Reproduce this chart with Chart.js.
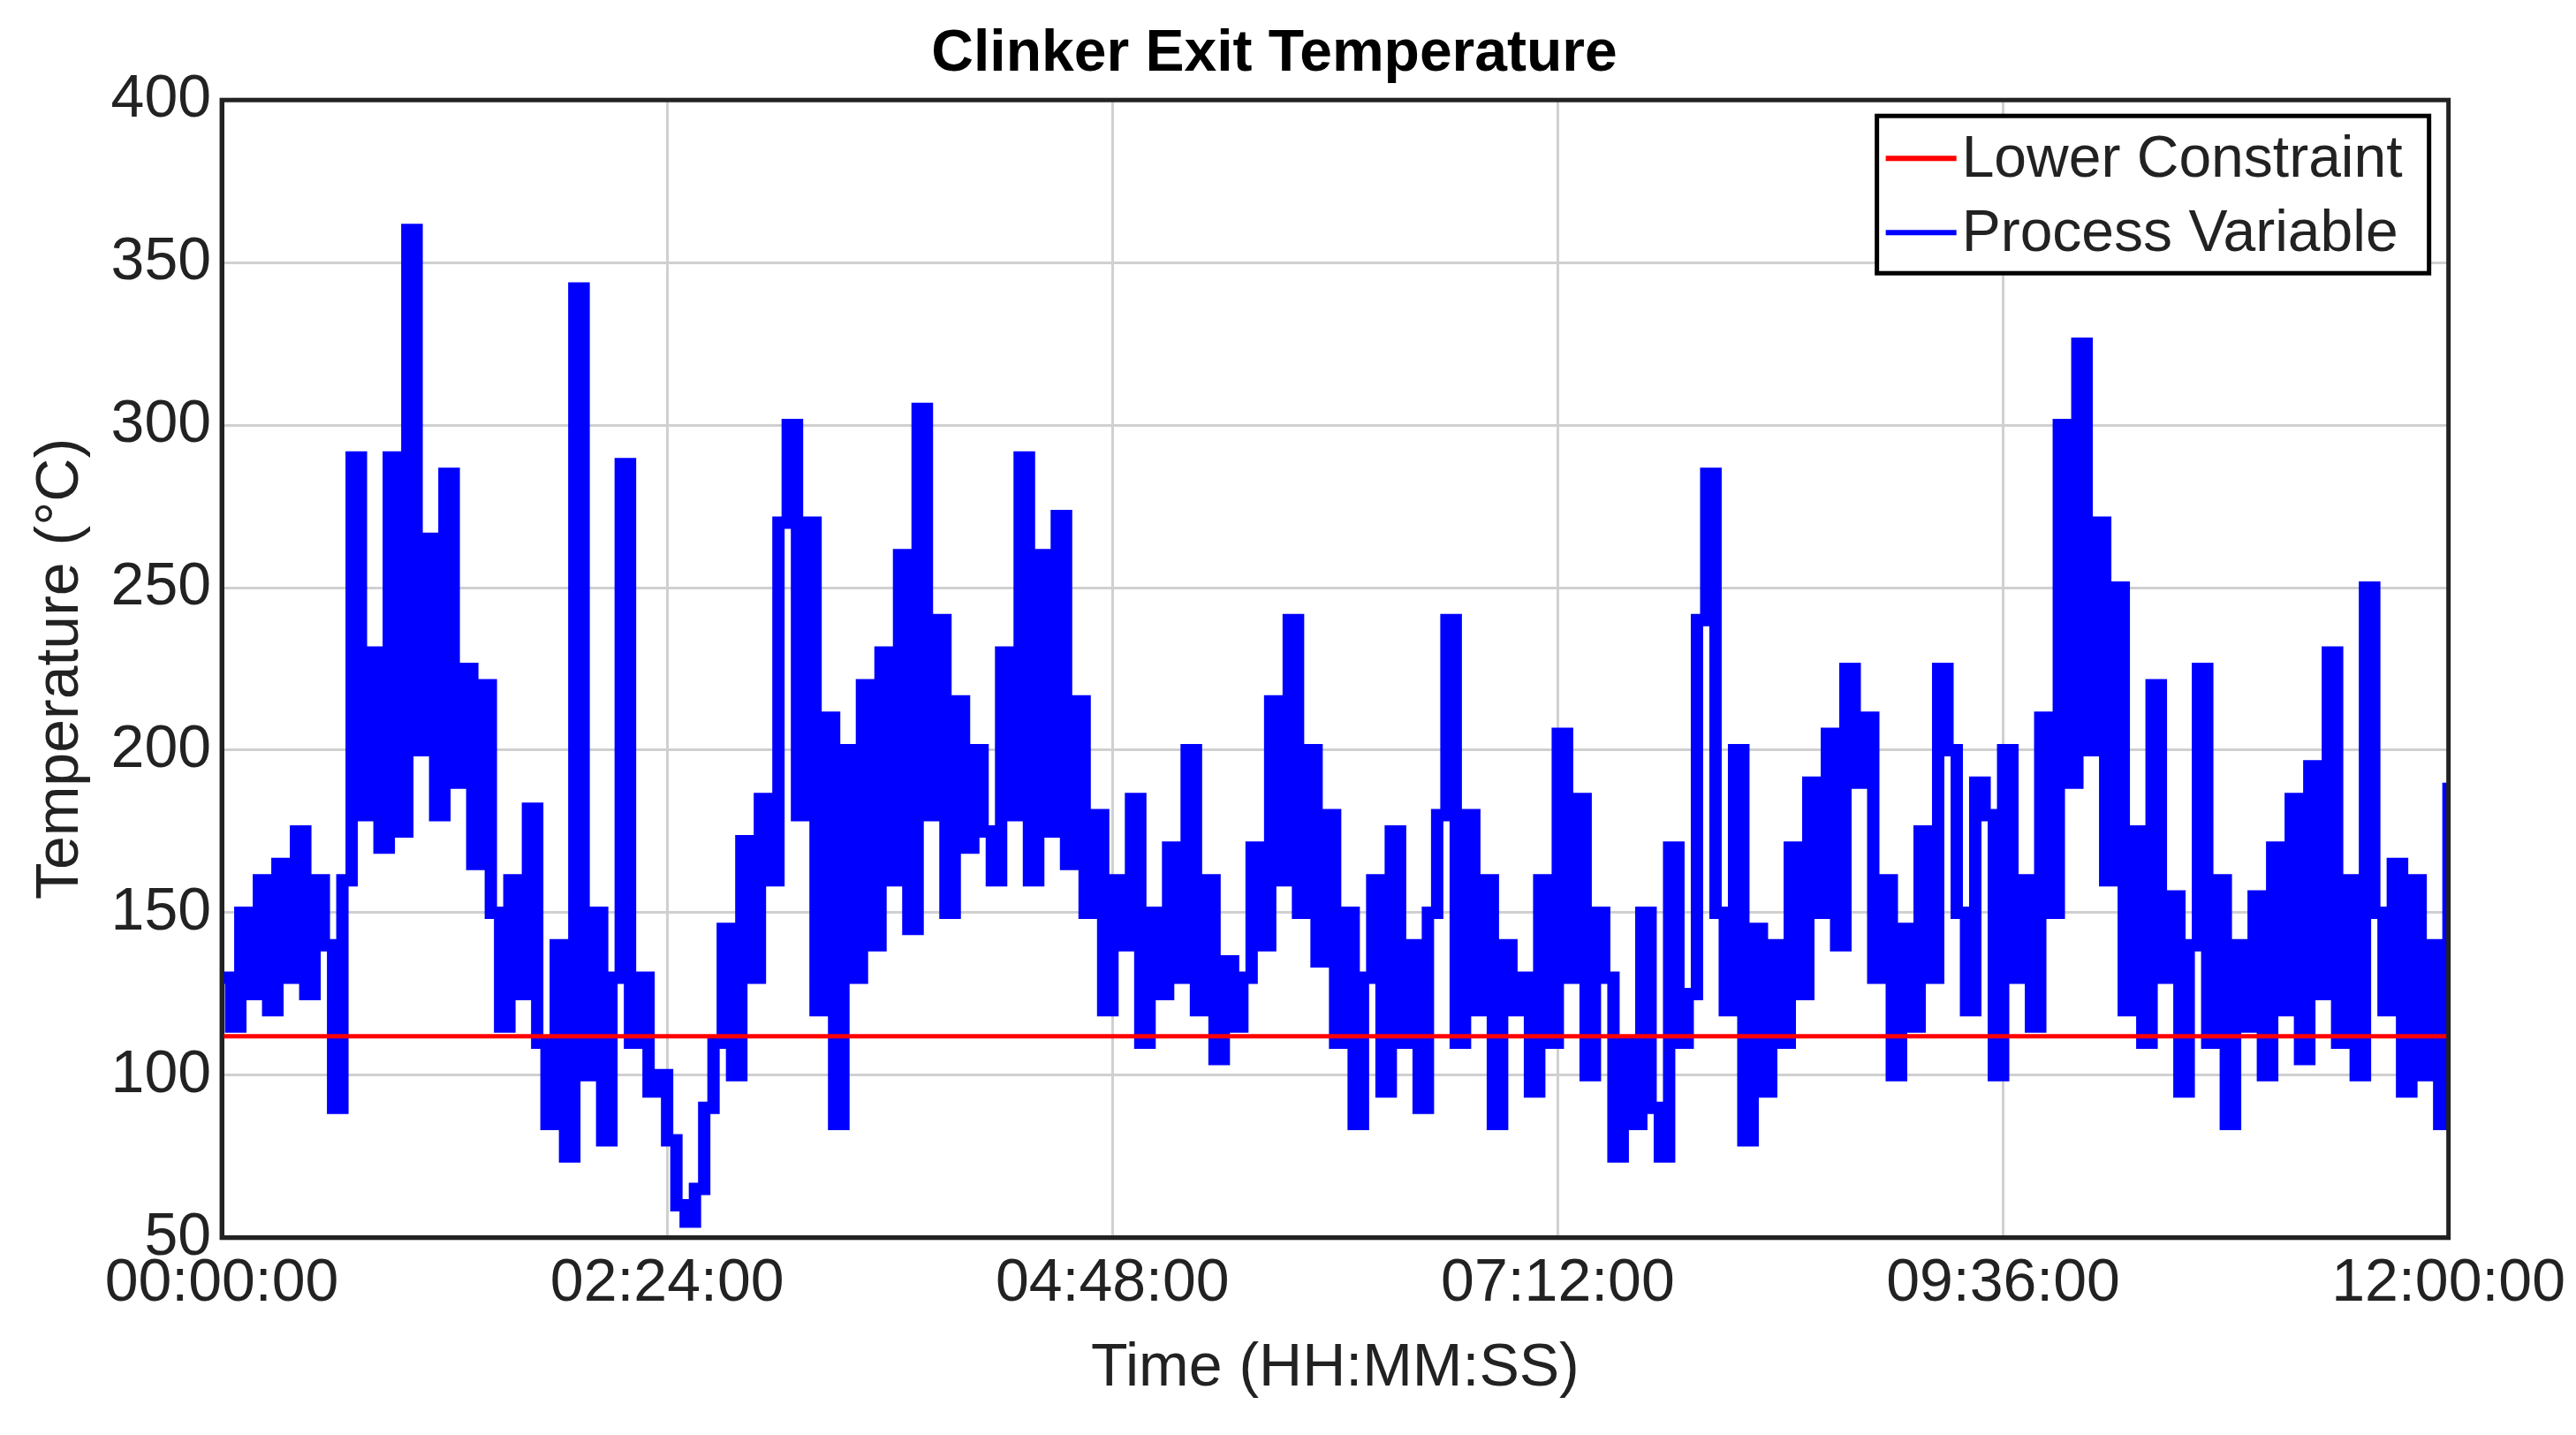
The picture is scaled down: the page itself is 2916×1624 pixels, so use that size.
<!DOCTYPE html>
<html><head><meta charset="utf-8">
<script src="https://cdn.jsdelivr.net/npm/chart.js@4"></script>
<style>html,body{margin:0;background:#fff}#w{width:2916px;height:1624px}</style>
</head><body><div id="w"><canvas id="c"></canvas></div>
<script>
const title = 'Clinker Exit Temperature';
const xTicks = ['00:00:00','02:24:00','04:48:00','07:12:00','09:36:00','12:00:00'];
const lowerConstraint = 112;
const processVariable = [
130,115,150,125,160,120,165,130,175,125,160,140,90,
160,290,180,230,170,290,175,360,200,265,180,285,190,225,165,220,
150,115,160,125,182,110,
85,140,75,342,100,150,80,130,288,110,
130,95,100,80,60,55,65,90,
110,145,100,172,130,185,160,270,300,180,
270,120,210,85,200,130,
220,140,230,160,260,145,305,180,
240,150,215,170,200,175,160,230,180,290,
160,260,175,272,165,215,
150,180,120,160,140,185,110,150,125,170,130,200,120,160,105,135,115,130,
170,140,215,160,240,150,200,135,
180,110,150,85,130,160,95,175,110,140,90,150,180,240,
110,180,120,160,85,140,120,130,95,160,110,205,130,185,100,150,
130,75,110,85,150,90,75,170,110,125,240,285,
150,120,200,80,145,95,140,110,170,125,190,150,205,140,225,190,
210,130,160,100,145,115,175,130,225,200,150,120,190,180,
100,200,130,160,115,210,150,300,190,325,200,270,160,250,
120,175,110,220,130,155,95,140,225,110,160,85,140,115,
155,100,170,120,185,105,195,125,230,110,160,100,250,150,
120,165,95,160,100,140,85,190
];
const totalMin = 720;
const step = totalMin/(processVariable.length-1);
const pvData = processVariable.map((v,i)=>({x:i*step,y:v}));
const lcData = [{x:0,y:lowerConstraint},{x:totalMin,y:lowerConstraint}];
function fmt(m){return xTicks[Math.round(m/144)] ?? '';}
const F='"Liberation Sans", Arial, sans-serif';
const boxPlugin={id:'box',afterDraw(ch){
 const a=ch.chartArea,c=ch.ctx;c.save();c.strokeStyle='#222';c.lineWidth=5;
 c.strokeRect(a.left,a.top,a.right-a.left,a.bottom-a.top);
 const w=625,h=178,x=a.right-w-22,y=a.top+18;
 c.fillStyle='#fff';c.fillRect(x,y,w,h);c.lineWidth=5;c.strokeStyle='#000';c.strokeRect(x,y,w,h);
 c.font='66px '+F;c.textBaseline='middle';c.fillStyle='#222';
 const items=[['Lower Constraint','#ff0000'],['Process Variable','#0000ff']];
 items.forEach((it,k)=>{const yy=y+48+k*84;c.strokeStyle=it[1];c.lineWidth=6;c.beginPath();c.moveTo(x+10,yy);c.lineTo(x+90,yy);c.stroke();c.fillText(it[0],x+96,yy+3);});
 c.restore();}};
new Chart(document.getElementById('c'),{type:'line',
 data:{datasets:[
  {label:'Lower Constraint',data:lcData,borderColor:'#ff0000',borderWidth:5,pointRadius:0},
  {label:'Process Variable',data:pvData,borderColor:'#0000ff',borderWidth:14,pointRadius:0,stepped:true}
 ]},
 options:{responsive:true,maintainAspectRatio:false,animation:false,
  layout:{padding:{left:24,right:55,top:6,bottom:30}},
  plugins:{legend:{display:false},title:{display:true,text:title,font:{family:F,size:66,weight:'bold'},color:'#000',padding:{top:16,bottom:12}}},
  scales:{
   x:{type:'linear',min:0,max:totalMin,ticks:{stepSize:144,callback:v=>fmt(v),font:{family:F,size:68},color:'#222',maxRotation:0,padding:12},
      grid:{color:'#d0d0d0',lineWidth:3,tickLength:0},border:{color:'#222',width:5},
      title:{display:true,text:'Time (HH:MM:SS)',font:{family:F,size:68},color:'#222',padding:{top:2}}},
   y:{min:50,max:400,ticks:{stepSize:50,font:{family:F,size:68},color:'#222',padding:12},
      grid:{color:'#d0d0d0',lineWidth:3,tickLength:0},border:{color:'#222',width:5},
      title:{display:true,text:'Temperature (°C)',font:{family:F,size:68},color:'#222'}}
  }},plugins:[boxPlugin]});
</script></body></html>
